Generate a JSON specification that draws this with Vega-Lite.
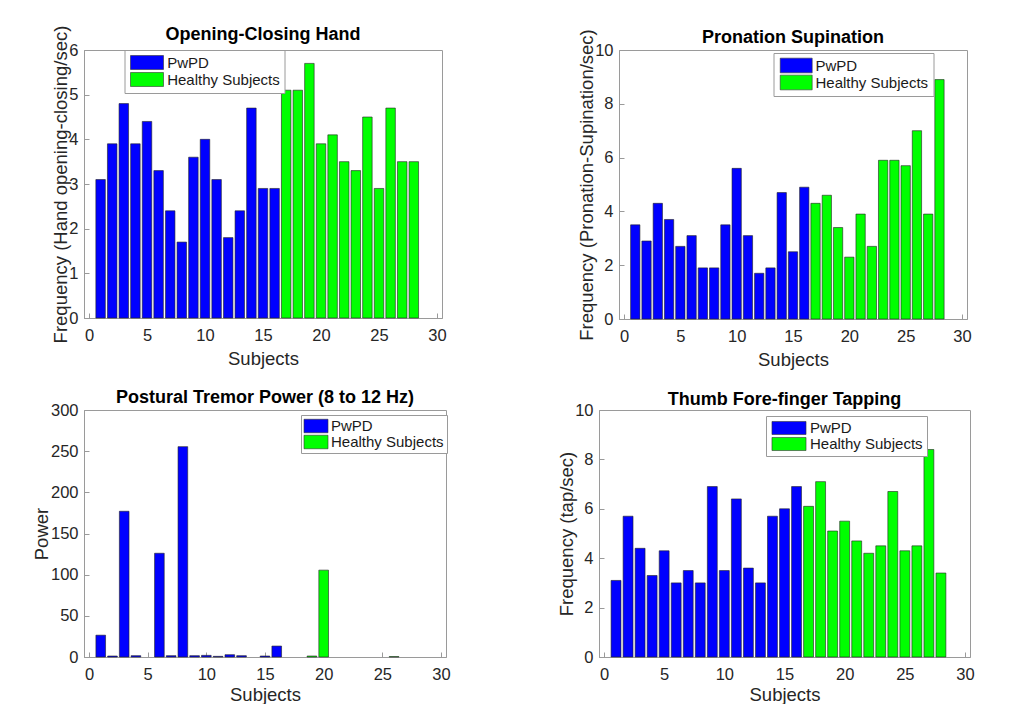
{
  "$schema": "https://vega.github.io/schema/vega-lite/v6.json",
  "background": "white",
  "padding": {"left": 32, "top": 24, "right": 0, "bottom": 0},
  "datasets": {
    "oc": [
      {"s": 1, "v": 3.1, "g": "PwPD"}, {"s": 2, "v": 3.9, "g": "PwPD"}, {"s": 3, "v": 4.8, "g": "PwPD"}, {"s": 4, "v": 3.9, "g": "PwPD"},
      {"s": 5, "v": 4.4, "g": "PwPD"}, {"s": 6, "v": 3.3, "g": "PwPD"}, {"s": 7, "v": 2.4, "g": "PwPD"}, {"s": 8, "v": 1.7, "g": "PwPD"},
      {"s": 9, "v": 3.6, "g": "PwPD"}, {"s": 10, "v": 4.0, "g": "PwPD"}, {"s": 11, "v": 3.1, "g": "PwPD"}, {"s": 12, "v": 1.8, "g": "PwPD"},
      {"s": 13, "v": 2.4, "g": "PwPD"}, {"s": 14, "v": 4.7, "g": "PwPD"}, {"s": 15, "v": 2.9, "g": "PwPD"}, {"s": 16, "v": 2.9, "g": "PwPD"},
      {"s": 17, "v": 5.1, "g": "Healthy Subjects"}, {"s": 18, "v": 5.1, "g": "Healthy Subjects"}, {"s": 19, "v": 5.7, "g": "Healthy Subjects"},
      {"s": 20, "v": 3.9, "g": "Healthy Subjects"}, {"s": 21, "v": 4.1, "g": "Healthy Subjects"}, {"s": 22, "v": 3.5, "g": "Healthy Subjects"},
      {"s": 23, "v": 3.3, "g": "Healthy Subjects"}, {"s": 24, "v": 4.5, "g": "Healthy Subjects"}, {"s": 25, "v": 2.9, "g": "Healthy Subjects"},
      {"s": 26, "v": 4.7, "g": "Healthy Subjects"}, {"s": 27, "v": 3.5, "g": "Healthy Subjects"}, {"s": 28, "v": 3.5, "g": "Healthy Subjects"}
    ],
    "ps": [
      {"s": 1, "v": 3.5, "g": "PwPD"}, {"s": 2, "v": 2.9, "g": "PwPD"}, {"s": 3, "v": 4.3, "g": "PwPD"}, {"s": 4, "v": 3.7, "g": "PwPD"},
      {"s": 5, "v": 2.7, "g": "PwPD"}, {"s": 6, "v": 3.1, "g": "PwPD"}, {"s": 7, "v": 1.9, "g": "PwPD"}, {"s": 8, "v": 1.9, "g": "PwPD"},
      {"s": 9, "v": 3.5, "g": "PwPD"}, {"s": 10, "v": 5.6, "g": "PwPD"}, {"s": 11, "v": 3.1, "g": "PwPD"}, {"s": 12, "v": 1.7, "g": "PwPD"},
      {"s": 13, "v": 1.9, "g": "PwPD"}, {"s": 14, "v": 4.7, "g": "PwPD"}, {"s": 15, "v": 2.5, "g": "PwPD"}, {"s": 16, "v": 4.9, "g": "PwPD"},
      {"s": 17, "v": 4.3, "g": "Healthy Subjects"}, {"s": 18, "v": 4.6, "g": "Healthy Subjects"}, {"s": 19, "v": 3.4, "g": "Healthy Subjects"},
      {"s": 20, "v": 2.3, "g": "Healthy Subjects"}, {"s": 21, "v": 3.9, "g": "Healthy Subjects"}, {"s": 22, "v": 2.7, "g": "Healthy Subjects"},
      {"s": 23, "v": 5.9, "g": "Healthy Subjects"}, {"s": 24, "v": 5.9, "g": "Healthy Subjects"}, {"s": 25, "v": 5.7, "g": "Healthy Subjects"},
      {"s": 26, "v": 7.0, "g": "Healthy Subjects"}, {"s": 27, "v": 3.9, "g": "Healthy Subjects"}, {"s": 28, "v": 8.9, "g": "Healthy Subjects"}
    ],
    "tp": [
      {"s": 1, "v": 26.5, "g": "PwPD"}, {"s": 2, "v": 1.2, "g": "PwPD"}, {"s": 3, "v": 177, "g": "PwPD"}, {"s": 4, "v": 1.6, "g": "PwPD"},
      {"s": 6, "v": 126, "g": "PwPD"}, {"s": 7, "v": 1.6, "g": "PwPD"}, {"s": 8, "v": 255.5, "g": "PwPD"},
      {"s": 9, "v": 1.6, "g": "PwPD"}, {"s": 10, "v": 2, "g": "PwPD"}, {"s": 11, "v": 0.8, "g": "PwPD"}, {"s": 12, "v": 2.8, "g": "PwPD"},
      {"s": 13, "v": 1.6, "g": "PwPD"}, {"s": 15, "v": 1.2, "g": "PwPD"}, {"s": 16, "v": 13.3, "g": "PwPD"},
      {"s": 19, "v": 1.2, "g": "Healthy Subjects"}, {"s": 20, "v": 105.5, "g": "Healthy Subjects"},
      {"s": 26, "v": 0.5, "g": "Healthy Subjects"}
    ],
    "tf": [
      {"s": 1, "v": 3.1, "g": "PwPD"}, {"s": 2, "v": 5.7, "g": "PwPD"}, {"s": 3, "v": 4.4, "g": "PwPD"}, {"s": 4, "v": 3.3, "g": "PwPD"},
      {"s": 5, "v": 4.3, "g": "PwPD"}, {"s": 6, "v": 3.0, "g": "PwPD"}, {"s": 7, "v": 3.5, "g": "PwPD"}, {"s": 8, "v": 3.0, "g": "PwPD"},
      {"s": 9, "v": 6.9, "g": "PwPD"}, {"s": 10, "v": 3.5, "g": "PwPD"}, {"s": 11, "v": 6.4, "g": "PwPD"}, {"s": 12, "v": 3.6, "g": "PwPD"},
      {"s": 13, "v": 3.0, "g": "PwPD"}, {"s": 14, "v": 5.7, "g": "PwPD"}, {"s": 15, "v": 6.0, "g": "PwPD"}, {"s": 16, "v": 6.9, "g": "PwPD"},
      {"s": 17, "v": 6.1, "g": "Healthy Subjects"}, {"s": 18, "v": 7.1, "g": "Healthy Subjects"}, {"s": 19, "v": 5.1, "g": "Healthy Subjects"},
      {"s": 20, "v": 5.5, "g": "Healthy Subjects"}, {"s": 21, "v": 4.7, "g": "Healthy Subjects"}, {"s": 22, "v": 4.2, "g": "Healthy Subjects"},
      {"s": 23, "v": 4.5, "g": "Healthy Subjects"}, {"s": 24, "v": 6.7, "g": "Healthy Subjects"}, {"s": 25, "v": 4.3, "g": "Healthy Subjects"},
      {"s": 26, "v": 4.5, "g": "Healthy Subjects"}, {"s": 27, "v": 8.4, "g": "Healthy Subjects"}, {"s": 28, "v": 3.4, "g": "Healthy Subjects"}
    ]
  },
  "resolve": {"scale": {"color": "independent"}, "legend": {"color": "independent"}},
  "spacing": 19,
  "vconcat": [
    {
      "hconcat": [
        {
          "data": {"name": "oc"},
          "title": {"text": "Opening-Closing Hand", "offset": 6, "dy": 25},
          "width": 358, "height": 268,
          "mark": {"type": "bar", "size": 9.5, "orient": "vertical"},
          "encoding": {
            "x": {"field": "s", "type": "quantitative", "scale": {"domain": [0, 30], "nice": false}, "axis": {"values": [0, 5, 10, 15, 20, 25, 30], "title": "Subjects"}},
            "y": {"field": "v", "type": "quantitative", "stack": null, "scale": {"domain": [0, 6], "nice": false}, "axis": {"values": [0, 1, 2, 3, 4, 5, 6], "title": "Frequency (Hand opening-closing/sec)"}},
            "color": {"field": "g", "type": "nominal", "scale": {"domain": ["PwPD", "Healthy Subjects"], "range": ["#0000ff", "#00ff00"]},
              "legend": {"orient": "none", "legendX": 40.5, "legendY": 0, "symbolType": "M-2.2,-0.93H2.2V0.93H-2.2Z", "symbolSize": 225, "symbolOffset": 10, "labelOffset": 12.2, "padding": 4.5}}
          }
        },
        {
          "data": {"name": "ps"},
          "title": {"text": "Pronation Supination", "offset": 7, "dy": 25.5},
          "width": 348, "height": 269,
          "mark": {"type": "bar", "size": 9.3, "orient": "vertical"},
          "encoding": {
            "x": {"field": "s", "type": "quantitative", "scale": {"domain": [0, 30], "nice": false}, "axis": {"values": [0, 5, 10, 15, 20, 25, 30], "title": "Subjects"}},
            "y": {"field": "v", "type": "quantitative", "stack": null, "scale": {"domain": [0, 10], "nice": false}, "axis": {"values": [0, 2, 4, 6, 8, 10], "title": "Frequency (Pronation-Supination/sec)"}},
            "color": {"field": "g", "type": "nominal", "scale": {"domain": ["PwPD", "Healthy Subjects"], "range": ["#0000ff", "#00ff00"]},
              "legend": {"orient": "none", "legendX": 154.5, "legendY": 3, "symbolType": "M-2.13,-0.98H2.13V0.98H-2.13Z", "symbolSize": 225, "symbolOffset": 10.2, "labelOffset": 11.3, "padding": 4.5}}
          }
        }
      ],
      "spacing": 177,
      "bounds": "flush",
      "resolve": {"scale": {"color": "independent"}, "legend": {"color": "independent"}}
    },
    {
      "hconcat": [
        {
          "data": {"name": "tp"},
          "title": {"text": "Postural Tremor Power (8 to 12 Hz)", "offset": 5, "dy": 9.5},
          "width": 362, "height": 247,
          "mark": {"type": "bar", "size": 9.65, "orient": "vertical"},
          "encoding": {
            "x": {"field": "s", "type": "quantitative", "scale": {"domain": [0, 30], "nice": false}, "axis": {"values": [0, 5, 10, 15, 20, 25, 30], "title": "Subjects", "titlePadding": 2.5}},
            "y": {"field": "v", "type": "quantitative", "stack": null, "scale": {"domain": [0, 300], "nice": false}, "axis": {"values": [0, 50, 100, 150, 200, 250, 300], "title": "Power"}},
            "color": {"field": "g", "type": "nominal", "scale": {"domain": ["PwPD", "Healthy Subjects"], "range": ["#0000ff", "#00ff00"]},
              "legend": {"orient": "none", "legendX": 217, "legendY": 5, "symbolType": "M-1.6,-0.9H1.6V0.9H-1.6Z", "symbolSize": 225, "symbolOffset": 4, "labelOffset": 7, "padding": 3, "rowPadding": -1}}
          }
        },
        {
          "data": {"name": "tf"},
          "title": {"text": "Thumb Fore-finger Tapping", "offset": 6, "dy": 12.7},
          "width": 371, "height": 247,
          "mark": {"type": "bar", "size": 9.9, "orient": "vertical"},
          "encoding": {
            "x": {"field": "s", "type": "quantitative", "scale": {"domain": [0, 30], "nice": false}, "axis": {"values": [0, 5, 10, 15, 20, 25, 30], "title": "Subjects", "titlePadding": 2.5}},
            "y": {"field": "v", "type": "quantitative", "stack": null, "scale": {"domain": [0, 10], "nice": false}, "axis": {"values": [0, 2, 4, 6, 8, 10], "title": "Frequency (tap/sec)"}},
            "color": {"field": "g", "type": "nominal", "scale": {"domain": ["PwPD", "Healthy Subjects"], "range": ["#0000ff", "#00ff00"]},
              "legend": {"orient": "none", "legendX": 167, "legendY": 6, "symbolType": "M-2.27,-0.87H2.27V0.87H-2.27Z", "symbolSize": 225, "symbolOffset": 11, "labelOffset": 13, "padding": 4, "rowPadding": -1}}
          }
        }
      ],
      "spacing": 153,
      "bounds": "flush",
      "resolve": {"scale": {"color": "independent"}, "legend": {"color": "independent"}}
    }
  ],
  "config": {
    "font": "Liberation Sans",
    "view": {"stroke": "#9a9a9a", "strokeWidth": 1},
    "axis": {"grid": false, "domainColor": "#9a9a9a", "tickColor": "#9a9a9a", "tickSize": -5, "labelFontSize": 16.5, "labelColor": "#262626", "titleFontSize": 18.5, "titleFontWeight": "normal", "titleColor": "#262626", "titleLimit": 2000, "labelPadding": 14, "titlePadding": 5.5, "labelFlush": false, "labelOverlap": false},
    "axisY": {"labelPadding": 11, "titlePadding": -1.5},
    "title": {"fontSize": 18, "fontWeight": "bold", "color": "#000000", "frame": "group", "anchor": "middle", "baseline": "alphabetic"},
    "legend": {"title": null, "labelFontSize": 15, "labelColor": "#1a1a1a", "strokeColor": "#9a9a9a", "fillColor": "#ffffff", "rowPadding": -1, "symbolStrokeColor": "#333333", "symbolStrokeWidth": 0.7},
    "bar": {"stroke": "#222222", "strokeWidth": 0.6}
  }
}
